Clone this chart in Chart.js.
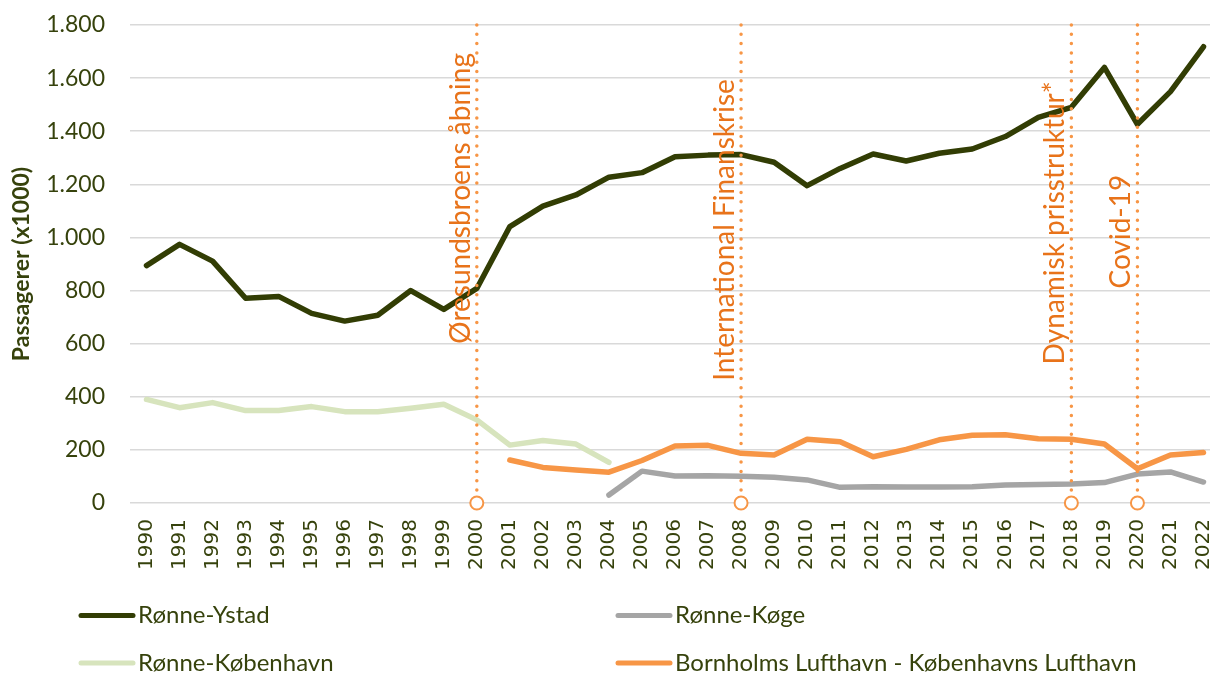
<!DOCTYPE html>
<html>
<head>
<meta charset="utf-8">
<script src="https://cdn.jsdelivr.net/npm/chart.js@4.4.1/dist/chart.umd.min.js"></script>
<style>
  html,body{margin:0;padding:0;background:#fff;overflow:hidden;}
  .contain{width:1220px;height:673px;}
</style>
</head>
<body>
<div class="contain"><canvas id="passChart" width="1220" height="673"></canvas></div>
<script>
// years on the x axis
const years=['1990','1991','1992','1993','1994','1995','1996','1997','1998','1999','2000','2001','2002','2003','2004','2005','2006','2007','2008','2009','2010','2011','2012','2013','2014','2015','2016','2017','2018','2019','2020','2021','2022'];

// passengers (x1000)
const ronneYstad=[894,974,911,771,778,714,685,707,800,729,808,1041,1118,1160,1227,1244,1304,1310,1312,1283,1195,1260,1314,1288,1317,1333,1380,1452,1490,1640,1426,1549,1718];
const ronneKoge=[null,null,null,null,null,null,null,null,null,null,null,null,null,null,30,120,102,103,101,97,87,59,61,60,60,61,68,70,72,77,109,117,79];
const ronneKbh=[390,359,378,348,348,363,344,344,357,372,313,218,235,222,153,null,null,null,null,null,null,null,null,null,null,null,null,null,null,null,null,null,null];
const lufthavn=[null,null,null,null,null,null,null,null,null,null,null,162,134,124,116,160,215,217,187,181,240,231,174,202,238,255,257,242,240,222,129,181,190];

const seriesNames=['Rønne-Ystad','Rønne-Køge','Rønne-København','Bornholms Lufthavn - Københavns Lufthavn'];
const seriesColors=['#323D04','#A5A5A5','#D7E4BD','#F79646'];

// events marked with dotted lines
const eventYears=['2000','2008','2018','2020'];
const eventLabels=['Øresundsbroens åbning','International Finanskrise','Dynamisk prisstruktur*','Covid-19'];
const eventLabelAt=[1147,1028,1055,1022];

const textColor='#36420C';
const fmt=v=>String(v).replace(/\B(?=(\d{3})+(?!\d))/g,'.');

const eventsPlugin={
    id:'events',
    afterDatasetsDraw(chart){
        const ctx=chart.ctx, x=chart.scales.x, y=chart.scales.y;
        eventYears.forEach((yr,i)=>{
            const px=x.getPixelForValue(years.indexOf(yr));
            const top=y.getPixelForValue(1800), bot=y.getPixelForValue(0);
            ctx.save();
            ctx.strokeStyle='#F79646';
            ctx.lineWidth=3.5;
            ctx.lineCap='round';
            ctx.setLineDash([0,9.3]);
            ctx.beginPath();
            ctx.moveTo(px,top);
            ctx.lineTo(px,bot-8);
            ctx.stroke();
            ctx.setLineDash([]);
            ctx.lineWidth=2;
            ctx.fillStyle='#fff';
            ctx.beginPath();
            ctx.arc(px,bot,6.5,0,Math.PI*2);
            ctx.fill();
            ctx.stroke();
            ctx.translate(px-7,y.getPixelForValue(eventLabelAt[i]));
            ctx.rotate(-Math.PI/2);
            ctx.font='28px Lato';
            ctx.fillStyle='#E8731A';
            ctx.textAlign='center';
            ctx.textBaseline='alphabetic';
            ctx.fillText(eventLabels[i],0,0);
            ctx.restore();
        });
    }
};

const legendPlugin={
    id:'gridLegend',
    afterDraw(chart){
        const ctx=chart.ctx;
        const cols=[79,616], rows=[615.5,663];
        chart.data.datasets.forEach((ds,i)=>{
            const lx=cols[i%2], ly=rows[Math.floor(i/2)];
            ctx.save();
            ctx.strokeStyle=ds.borderColor;
            ctx.lineWidth=5;
            ctx.lineCap='round';
            ctx.beginPath();
            ctx.moveTo(lx+2,ly);
            ctx.lineTo(lx+54,ly);
            ctx.stroke();
            ctx.font='24px Lato';
            ctx.fillStyle=textColor;
            ctx.textBaseline='middle';
            ctx.fillText(ds.label,lx+59,ly);
            ctx.restore();
        });
    }
};

const mkSet=(i,data,order)=>({
    label:seriesNames[i],
    data:data,
    borderColor:seriesColors[i],
    backgroundColor:seriesColors[i],
    borderWidth:5.5,
    pointRadius:0,
    tension:0,
    borderJoinStyle:'round',
    borderCapStyle:'round',
    spanGaps:false,
    order:order
});

new Chart(document.getElementById('passChart'),{
    type:'line',
    data:{
        labels:years,
        datasets:[
            mkSet(0,ronneYstad,0),
            mkSet(1,ronneKoge,3),
            mkSet(2,ronneKbh,2),
            mkSet(3,lufthavn,1)
        ]
    },
    options:{
        responsive:false,
        animation:false,
        devicePixelRatio:1,
        layout:{padding:{top:25,right:0,left:0,bottom:0}},
        plugins:{legend:{display:false},tooltip:{enabled:false}},
        scales:{
            x:{
                offset:true,
                grid:{display:false,drawTicks:false},
                border:{display:false},
                ticks:{
                    minRotation:90,maxRotation:90,autoSkip:false,padding:16,
                    color:textColor,font:{family:'DejaVu Sans',size:20}
                },
                afterFit(scale){
                    scale.height=170;
                    scale.paddingLeft=0;
                    scale.paddingRight=0;
                }
            },
            y:{
                min:0,max:1800,
                grid:{color:'#D9D9D9',lineWidth:1.5,drawTicks:false},
                border:{display:false},
                ticks:{
                    stepSize:200,padding:25,color:textColor,
                    font:{family:'Lato',size:23},
                    callback:v=>fmt(v)
                },
                title:{
                    display:true,text:'Passagerer (x1000)',color:textColor,
                    font:{family:'Lato',size:23,weight:'bold'},
                    padding:{top:8,bottom:0}
                },
                afterFit(scale){
                    scale.width=130;
                    scale.paddingTop=0;
                    scale.paddingBottom=0;
                }
            }
        }
    },
    plugins:[eventsPlugin,legendPlugin]
});
</script>
</body>
</html>
